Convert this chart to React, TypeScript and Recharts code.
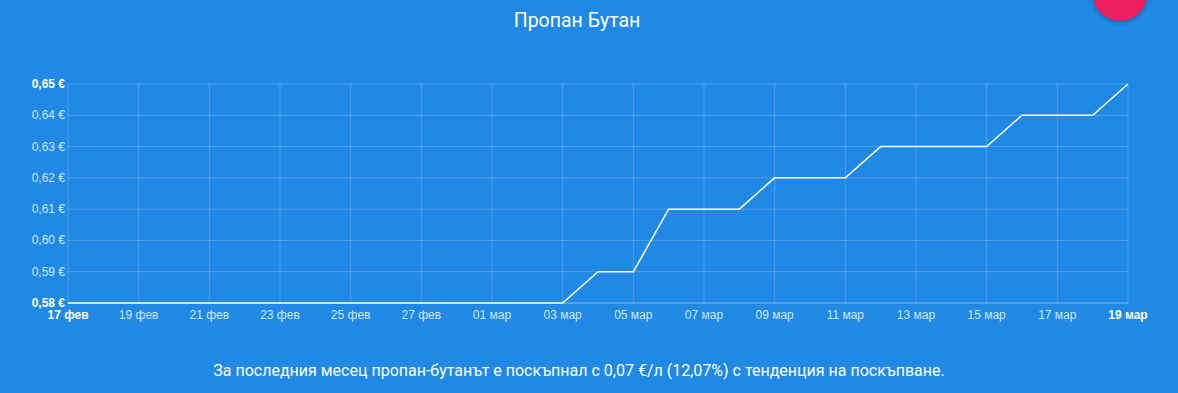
import React from "react";
import { LineChart, Line, XAxis, YAxis, CartesianGrid } from "recharts";

const dates = [
  "17 фев", "18 фев", "19 фев", "20 фев", "21 фев", "22 фев", "23 фев", "24 фев",
  "25 фев", "26 фев", "27 фев", "28 фев", "01 мар", "02 мар", "03 мар", "04 мар",
  "05 мар", "06 мар", "07 мар", "08 мар", "09 мар", "10 мар", "11 мар", "12 мар",
  "13 мар", "14 мар", "15 мар", "16 мар", "17 мар", "18 мар", "19 мар",
];
const prices = [
  0.58, 0.58, 0.58, 0.58, 0.58, 0.58, 0.58, 0.58,
  0.58, 0.58, 0.58, 0.58, 0.58, 0.58, 0.58, 0.59,
  0.59, 0.61, 0.61, 0.61, 0.62, 0.62, 0.62, 0.63,
  0.63, 0.63, 0.63, 0.64, 0.64, 0.64, 0.65,
];
const yTicks = [0.58, 0.59, 0.6, 0.61, 0.62, 0.63, 0.64, 0.65];
const title = "Пропан Бутан";
const footer = "За последния месец пропан-бутанът е поскъпнал с 0,07 €/л (12,07%) с тенденция на поскъпване.";

const data = dates.map((d, i) => ({ date: d, price: prices[i] }));

const fmt = (v: number) => v.toFixed(2).replace(".", ",") + " €";

const XTick = (props: any) => {
  const { x, y, payload } = props;
  const edge = payload.value === dates[0] || payload.value === dates[dates.length - 1];
  return (
    <text
      x={x}
      y={y + 8}
      textAnchor="middle"
      fontFamily="'Liberation Sans', Arial, sans-serif"
      fontSize={12}
      fontWeight={edge ? 700 : 400}
      fill={edge ? "#ffffff" : "#cfe6fb"}
    >
      {payload.value}
    </text>
  );
};

const YTick = (props: any) => {
  const { x, y, payload } = props;
  const edge = payload.value === yTicks[0] || payload.value === yTicks[yTicks.length - 1];
  return (
    <text
      x={x + 5}
      y={y + 4}
      textAnchor="end"
      fontFamily="'Liberation Sans', Arial, sans-serif"
      fontSize={12}
      fontWeight={edge ? 700 : 400}
      fill={edge ? "#ffffff" : "#cfe6fb"}
    >
      {fmt(payload.value)}
    </text>
  );
};

export default function App() {
  return (
    <div
      style={{
        position: "absolute",
        left: 0,
        top: 0,
        width: 1178,
        height: 393,
        overflow: "hidden",
        background: "#1f89e5",
      }}
    >
      <div
        style={{
          position: "absolute",
          left: 1093,
          top: -33,
          width: 54,
          height: 54,
          borderRadius: "50%",
          background: "#ec1f5e",
          boxShadow: "0 2px 5px rgba(0,0,0,0.25)",
        }}
      />
      <div
        style={{
          position: "absolute",
          left: -12,
          width: 1178,
          top: 9,
          textAlign: "center",
          color: "#ffffff",
          fontFamily: "Roboto, sans-serif",
          fontSize: 19.5,
        }}
      >
        {title}
      </div>
      <div style={{ position: "absolute", left: 0, top: 0 }}>
        <LineChart
          width={1178}
          height={393}
          data={data}
          margin={{ top: 84, right: 50, bottom: 60, left: 8 }}
        >
          <CartesianGrid stroke="rgba(255,255,255,0.2)" strokeWidth={1} />
          <XAxis
            dataKey="date"
            interval={1}
            tickLine={false}
            axisLine={{ stroke: "rgba(255,255,255,0.3)" }}
            tick={<XTick />}
            height={30}
          />
          <YAxis
            domain={[0.58, 0.65]}
            ticks={yTicks}
            width={60}
            tickLine={false}
            axisLine={false}
            tick={<YTick />}
          />
          <Line
            type="linear"
            dataKey="price"
            stroke="#ffffff"
            strokeWidth={1.5}
            dot={false}
            isAnimationActive={false}
          />
        </LineChart>
      </div>
      <div
        style={{
          position: "absolute",
          left: -10,
          width: 1178,
          top: 361,
          textAlign: "center",
          color: "#ffffff",
          fontFamily: "Roboto, sans-serif",
          fontSize: 16,
        }}
      >
        {footer}
      </div>
    </div>
  );
}
